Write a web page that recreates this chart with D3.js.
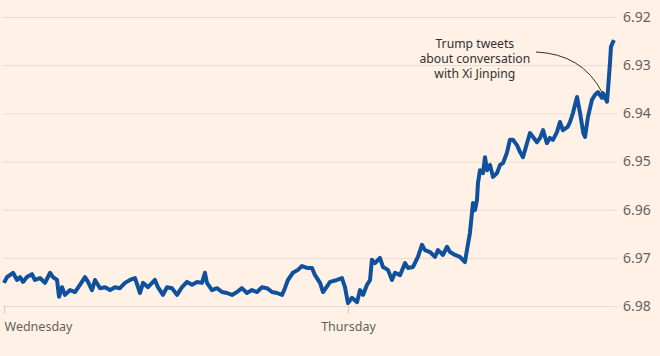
<!DOCTYPE html>
<html>
<head>
<meta charset="utf-8">
<script src="https://cdn.jsdelivr.net/npm/d3@7"></script>
<style>
  html, body { margin: 0; padding: 0; background: #FFF1E5; }
  svg { display: block; }
  text { font-family: "Noto Sans", "Open Sans", sans-serif; }
</style>
</head>
<body>
<svg id="chart" width="660" height="356"></svg>
<script>
// Hours since Wednesday 00:00
const hours = [0, 0.21, 0.63, 0.91, 1.12, 1.33, 1.60, 1.95, 2.16, 2.51, 2.86, 3.21, 3.42, 3.70, 3.84, 4.05, 4.26, 4.60, 4.95, 5.30,
  5.65, 5.86, 6.14, 6.35, 6.70, 7.05, 7.40, 7.74, 8.09, 8.44, 8.79, 9.14, 9.49, 9.70, 10.05, 10.53, 10.74, 11.09, 11.37, 11.72,
  12.07, 12.42, 12.77, 13.12, 13.47, 13.81, 14.02, 14.16, 14.51, 14.86, 15.21, 15.56, 15.91, 16.26, 16.60, 16.95, 17.30, 17.65, 18.00, 18.35,
  18.70, 19.05, 19.40, 19.60, 19.81, 20.16, 20.51, 20.79, 21.14, 21.49, 21.70, 22.05, 22.26, 22.61, 22.75, 23.23, 23.58, 23.79, 24.00, 24.28,
  24.63, 24.84, 25.05, 25.33, 25.54, 25.67, 25.88, 26.23, 26.44, 26.79, 27.07, 27.28, 27.63, 27.98, 28.19, 28.54, 28.88, 29.16, 29.37, 29.72,
  30.07, 30.28, 30.63, 30.91, 31.12, 31.47, 31.81, 32.16, 32.30, 32.51, 32.65, 32.72, 32.86, 33.00, 33.07, 33.21, 33.42, 33.56, 33.70, 33.91,
  34.12, 34.40, 34.61, 34.82, 35.09, 35.30, 35.51, 35.79, 36.00, 36.21, 36.49, 36.70, 36.91, 37.19, 37.40, 37.61, 37.88, 38.09, 38.30, 38.58,
  38.79, 39.00, 39.33, 39.49, 39.70, 39.98, 40.19, 40.42, 40.54, 40.74, 41.02, 41.23, 41.44, 41.72, 41.79, 42.07, 42.14, 42.28, 42.35, 42.49, 42.56];

// Dollar / renminbi rate (one value per entry in hours)
const rates = [6.9752, 6.9740, 6.9731, 6.9746, 6.9740, 6.9750, 6.9740, 6.9734, 6.9746, 6.9742, 6.9752, 6.9731, 6.9740, 6.9746, 6.9781, 6.9761, 6.9777, 6.9767, 6.9771, 6.9756,
  6.9740, 6.9750, 6.9767, 6.9746, 6.9763, 6.9761, 6.9767, 6.9761, 6.9763, 6.9752, 6.9746, 6.9742, 6.9773, 6.9752, 6.9761, 6.9746, 6.9761, 6.9777, 6.9761, 6.9763,
  6.9777, 6.9761, 6.9750, 6.9756, 6.9750, 6.9752, 6.9731, 6.9752, 6.9767, 6.9763, 6.9771, 6.9773, 6.9777, 6.9771, 6.9763, 6.9773, 6.9767, 6.9771, 6.9761, 6.9763,
  6.9771, 6.9773, 6.9777, 6.9763, 6.9746, 6.9731, 6.9725, 6.9717, 6.9721, 6.9721, 6.9736, 6.9752, 6.9771, 6.9756, 6.9750, 6.9746, 6.9742, 6.9761, 6.9794, 6.9783,
  6.9792, 6.9767, 6.9777, 6.9756, 6.9746, 6.9704, 6.9711, 6.9700, 6.9719, 6.9725, 6.9746, 6.9731, 6.9736, 6.9711, 6.9721, 6.9719, 6.9698, 6.9673, 6.9684, 6.9688,
  6.9698, 6.9684, 6.9694, 6.9677, 6.9688, 6.9694, 6.9698, 6.9709, 6.9684, 6.9648, 6.9607, 6.9586, 6.9601, 6.9580, 6.9545, 6.9518, 6.9524, 6.9491, 6.9518, 6.9507,
  6.9532, 6.9524, 6.9507, 6.9503, 6.9482, 6.9455, 6.9455, 6.9466, 6.9480, 6.9491, 6.9462, 6.9441, 6.9449, 6.9460, 6.9451, 6.9435, 6.9462, 6.9451, 6.9455, 6.9439,
  6.9418, 6.9435, 6.9428, 6.9418, 6.9399, 6.9366, 6.9399, 6.9441, 6.9449, 6.9408, 6.9372, 6.9362, 6.9356, 6.9368, 6.9358, 6.9376, 6.9352, 6.9295, 6.9262, 6.9252, 6.9248];

const yTicks = [6.92, 6.93, 6.94, 6.95, 6.96, 6.97, 6.98];
const dayTicks = [0, 24];
const dayLabels = ["Wednesday", "Thursday"];
const noteLines = ["Trump tweets", "about conversation", "with Xi Jinping"];
const noteHour = 41.79;
const noteRate = 6.9358;

const data = hours.map((h, i) => ({ h, v: rates[i] }));

const svg = d3.select("#chart");
svg.append("rect").attr("width", 660).attr("height", 356).attr("fill", "#FFF1E5");

const x = d3.scaleLinear().domain([0, 42.77]).range([4, 617]);
const y = d3.scaleLinear().domain([6.92, 6.98]).range([17, 306]);

// Y axis with gridlines
const yAxis = svg.append("g")
  .attr("transform", "translate(617,0)")
  .call(d3.axisRight(y).tickValues(yTicks).tickSize(-614).tickPadding(6).tickFormat(d3.format(".2f")));
yAxis.select(".domain").remove();
yAxis.selectAll("line").attr("stroke", "#e9dccf").attr("stroke-width", 1);
yAxis.selectAll("text").attr("fill", "#66605c").attr("font-size", 14);

// X axis
const xAxis = svg.append("g")
  .attr("transform", "translate(0,306)")
  .call(d3.axisBottom(x).tickValues(dayTicks).tickSize(8).tickPadding(8)
    .tickFormat((d, i) => dayLabels[i]));
xAxis.select(".domain").remove();
xAxis.selectAll("line").attr("stroke", "#d8cbbf");
xAxis.selectAll("text").attr("fill", "#66605c").attr("font-size", 12.5)
  .attr("text-anchor", (d, i) => i === 0 ? "start" : "middle");

// Line
const line = d3.line().x(d => x(d.h)).y(d => y(d.v)).curve(d3.curveLinear);
svg.append("path")
  .datum(data)
  .attr("fill", "none")
  .attr("stroke", "#0f519c")
  .attr("stroke-width", 4)
  .attr("stroke-linejoin", "round")
  .attr("d", line);

// Annotation
const tx = x(32.85);
const note = svg.append("text")
  .attr("text-anchor", "middle")
  .attr("fill", "#33302e")
  .attr("font-size", 12.2);
noteLines.forEach((t, i) => {
  note.append("tspan").attr("x", tx).attr("y", 47.5 + i * 15).text(t);
});
const ex = x(noteHour) - 1, ey = y(noteRate) - 1;
const sx = 536, sy = 52;
svg.append("path")
  .attr("fill", "none")
  .attr("stroke", "#33302e")
  .attr("stroke-width", 1)
  .attr("d", `M${sx},${sy} Q${582},${54} ${ex},${ey}`);
</script>
</body>
</html>
